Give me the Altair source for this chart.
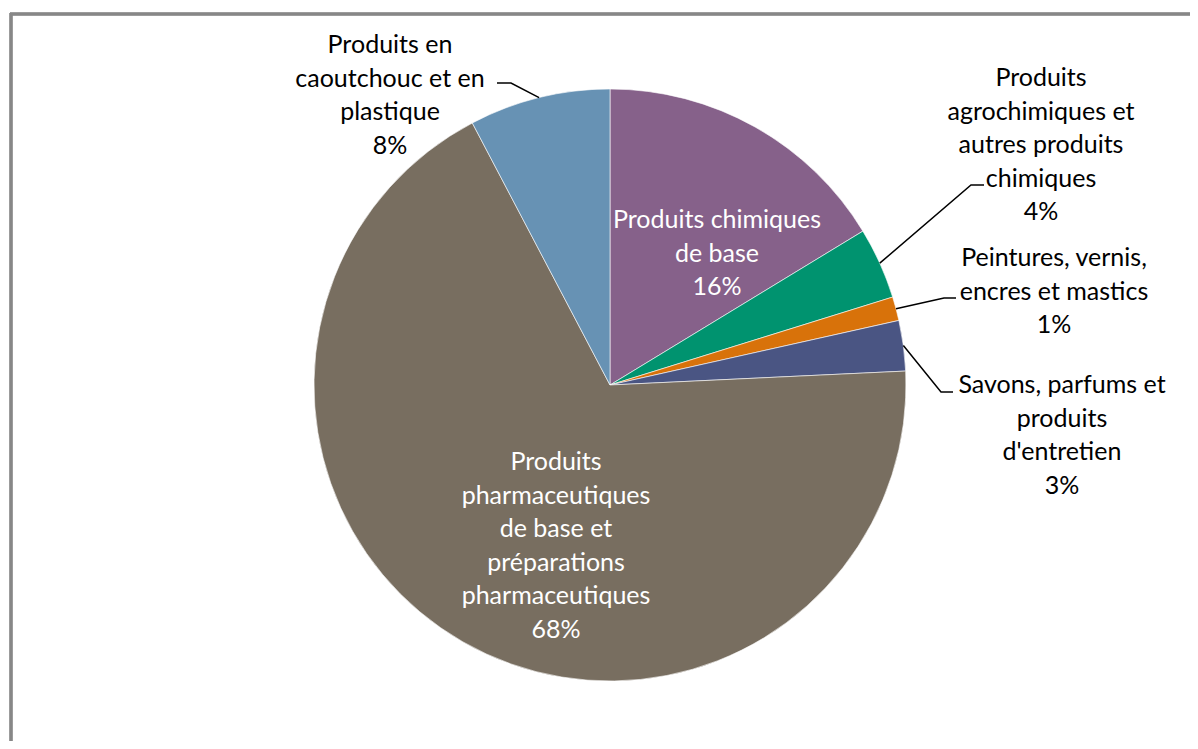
import math
import altair as alt
import pandas as pd

# ---- data ----
categories = [
    "Produits chimiques de base",
    "Produits agrochimiques et autres produits chimiques",
    "Peintures, vernis, encres et mastics",
    "Savons, parfums et produits d'entretien",
    "Produits pharmaceutiques de base et préparations pharmaceutiques",
    "Produits en caoutchouc et en plastique",
]
values = [16.3, 3.9, 1.3, 2.75, 68.05, 7.7]
colors = ["#86618A", "#00936F", "#D8720A", "#4A5583", "#786E60", "#6792B4"]

# label text, wrapped as in the reference
label_lines = [
    ["Produits chimiques", "de base"],
    ["Produits", "agrochimiques et", "autres produits", "chimiques"],
    ["Peintures, vernis,", "encres et mastics"],
    ["Savons, parfums et", "produits", "d'entretien"],
    ["Produits", "pharmaceutiques", "de base et", "préparations", "pharmaceutiques"],
    ["Produits en", "caoutchouc et en", "plastique"],
]

# ---- layout (page pixels) ----
OFF = 8
W, H = 1182, 733
CX, CY, R = 609, 385, 296
LINE_H = 33.6
FONT = "Lato"
FS = 25
label_layout = [
    dict(x=716, y=220, color="white", elbow=None, end=None),
    dict(x=1040, y=78, color="black", elbow=(970, 185), end=(983, 185)),
    dict(x=1053, y=258, color="black", elbow=(943, 298), end=(955, 298)),
    dict(x=1061, y=385, color="black", elbow=(940, 392), end=(952, 392)),
    dict(x=555, y=462, color="white", elbow=None, end=None),
    dict(x=389, y=45, color="black", elbow=(510, 83), end=(496, 83)),
]

total = sum(values)
arc_df = pd.DataFrame({"cat": categories, "value": values, "idx": range(len(values))})

text_rows = []
line_rows = []
cum = 0.0
for i, (cat, v) in enumerate(zip(categories, values)):
    lay = label_layout[i]
    lines = label_lines[i] + [f"{round(v / total * 100)}%"]
    for j, t in enumerate(lines):
        text_rows.append(dict(px=lay["x"] - OFF, py=lay["y"] + j * LINE_H - OFF,
                              t=t, col=lay["color"]))
    a = 2 * math.pi * (cum + v / 2) / total
    cum += v
    if lay["elbow"] is not None:
        sx = CX + R * math.sin(a)
        sy = CY - R * math.cos(a)
        pts = [(sx, sy), lay["elbow"], lay["end"]]
        for k, (px, py) in enumerate(pts):
            line_rows.append(dict(cat=cat, k=k, px=px - OFF, py=py - OFF))

text_df = pd.DataFrame(text_rows)
line_df = pd.DataFrame(line_rows)

pie = alt.Chart(arc_df).mark_arc(outerRadius=R, stroke="white", strokeWidth=0.6).encode(
    theta=alt.Theta("value:Q", stack=True),
    color=alt.Color("cat:N", scale=alt.Scale(domain=categories, range=colors), legend=None),
    order=alt.Order("idx:Q"),
    x=alt.value(CX - OFF),
    y=alt.value(CY - OFF),
)

leaders = alt.Chart(line_df).mark_line(color="black", strokeWidth=1.5).encode(
    x=alt.X("px:Q", scale=None, axis=None),
    y=alt.Y("py:Q", scale=None, axis=None),
    detail="cat:N",
    order="k:Q",
)

texts = alt.Chart(text_df).mark_text(font=FONT, fontSize=FS, align="center",
                                     baseline="middle").encode(
    x=alt.X("px:Q", scale=None, axis=None),
    y=alt.Y("py:Q", scale=None, axis=None),
    text="t:N",
    color=alt.Color("col:N", scale=None),
)

border_top = alt.Chart(arc_df).mark_rule(color="#878787", strokeWidth=2.5).encode(
    x=alt.value(9 - OFF), x2=alt.value(W), y=alt.value(14 - OFF))
border_left = alt.Chart(arc_df).mark_rule(color="#878787", strokeWidth=2.5).encode(
    x=alt.value(10 - OFF), y=alt.value(13 - OFF), y2=alt.value(H))

chart = alt.layer(pie, leaders, texts, border_top, border_left).properties(
    width=W, height=H,
    autosize=alt.AutoSizeParams(type="fit", contains="padding"),
    padding=0,
    background="white",
).configure_view(stroke=None)

chart.save("out.html", embed_options={"renderer": "svg", "actions": False})
